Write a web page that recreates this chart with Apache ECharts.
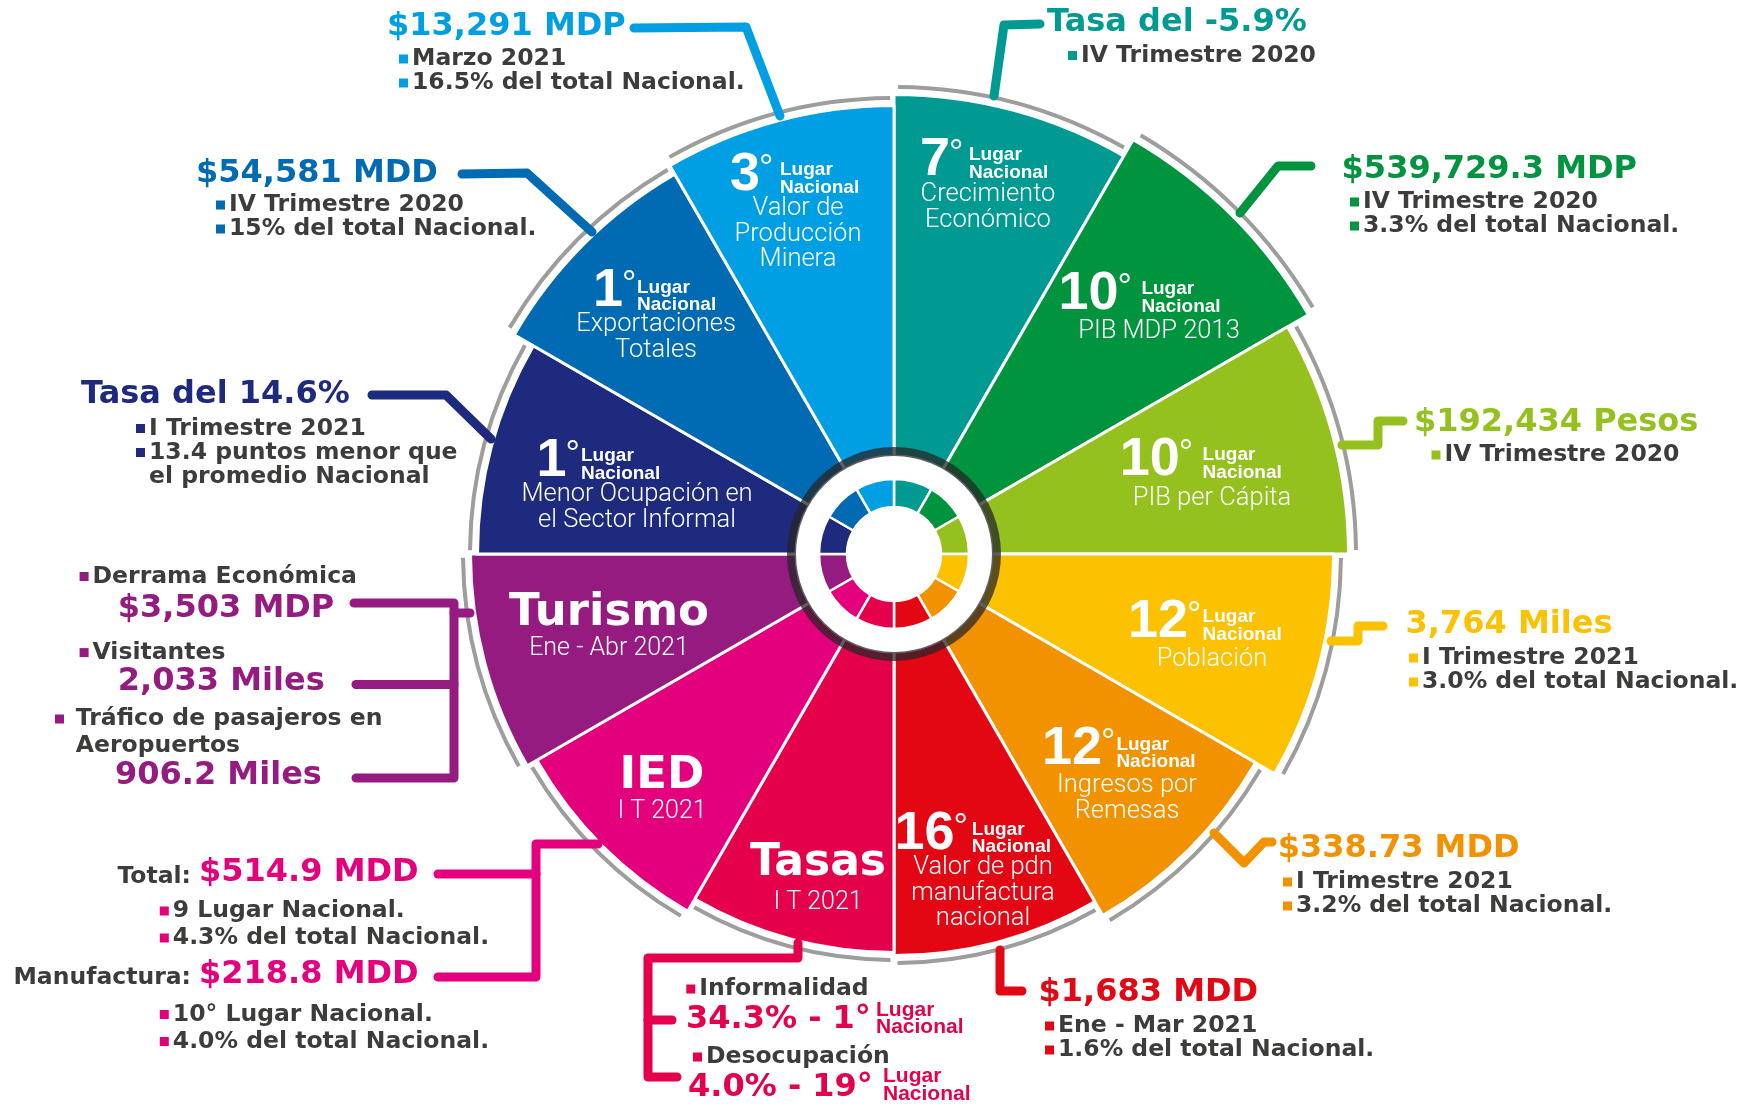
<!DOCTYPE html>
<html><head><meta charset="utf-8">
<script src="https://cdn.jsdelivr.net/npm/echarts@6/dist/echarts.min.js"></script>
<style>html,body{margin:0;padding:0;background:#fff}#c{width:1752px;height:1105px}</style>
</head><body><div id="c"></div>
<script>
// ---------------- DATA ----------------
const INDICATORS = ['Crecimiento\nEconómico','PIB MDP 2013','PIB per Cápita','Población','Ingresos por\nRemesas','Valor de pdn\nmanufactura\nnacional','Tasas','IED','Turismo','Menor Ocupación en\nel Sector Informal','Exportaciones\nTotales','Valor de\nProducción\nMinera'];
const SHARE = [1,1,1,1,1,1,1,1,1,1,1,1];
const RANKS = [7,10,10,12,12,16,null,null,null,1,1,3];
const HEADLINES = ['Tasa del -5.9%','$539,729.3 MDP','$192,434 Pesos','3,764 Miles','$338.73 MDD','$1,683 MDD',null,null,null,'Tasa del 14.6%','$54,581 MDD','$13,291 MDP'];
const DETAILS = [['IV Trimestre 2020'],['IV Trimestre 2020','3.3% del total Nacional.'],['IV Trimestre 2020'],['I Trimestre 2021','3.0% del total Nacional.'],['I Trimestre 2021','3.2% del total Nacional.'],['Ene - Mar 2021','1.6% del total Nacional.'],null,null,null,['I Trimestre 2021','13.4 puntos menor que\nel promedio Nacional'],['IV Trimestre 2020','15% del total Nacional.'],['Marzo 2021','16.5% del total Nacional.']];
const PERIODS = [null,null,null,null,null,null,'I T 2021','I T 2021','Ene - Abr 2021',null,null,null];
const TURISMO_LABELS = ['Derrama Económica','Visitantes','Tráfico de pasajeros en\nAeropuertos'];
const TURISMO_VALUES = ['$3,503 MDP','2,033 Miles','906.2 Miles'];
const IED_LABELS = ['Total:','Manufactura:'];
const IED_VALUES = ['$514.9 MDD','$218.8 MDD'];
const IED_DETAILS = [['9 Lugar Nacional.','4.3% del total Nacional.'],['10° Lugar Nacional.','4.0% del total Nacional.']];
const TASAS_LABELS = ['Informalidad','Desocupación'];
const TASAS_VALUES = ['34.3%','4.0%'];
const TASAS_RANKS = [1,19];

// ---------------- STYLE / LAYOUT ----------------
const COLORS = ['#009a93','#00943e','#95c11f','#fcc100','#f29200','#e30613','#e4004b','#e4007d','#951b81','#1d2a7e','#006ab3','#009fe3'];
const CX = 894, CY = 554;
const SLICE_R = [458,477,453,438,416,400,397,411,422,415,437,447];
const GRAY = '#9d9d9c', TXT = '#3c3c3b';
const F_HEAD = '"DejaVu Sans", sans-serif';
const F_NUM = '"Liberation Sans", Arial, sans-serif';
const F_LIGHT = 'Roboto, "Open Sans", sans-serif';
const HEAD_POS = [[1047,22.5],[1341.6,169.5],[1414,423],[1405.6,625],[1277.7,849],[1038.5,993],null,null,null,[81,394.5],[196,173.5],[387,27]];
const DET_POS = [[1081,55.5],[1363,202],[1444.5,455],[1422,658],[1296,882],[1058,1026],null,null,null,[149,428.5],[229,205],[412,59]];
const LEADERS = [
  [[[994,96],[1004,25],[1040,24]]],
  [[[1240,213],[1278,166],[1311,166]]],
  [[[1342,445],[1378,445],[1378,421],[1403,421]]],
  [[[1331,641],[1358,641],[1358,626],[1383,626]]],
  [[[1214,833],[1244,863],[1264,842],[1272,842]]],
  [[[1000,950],[1000,991],[1022,991]]],
  [[[798,943],[798,958],[648,958],[648,1077],[677,1077]],[[648,1020],[672,1020]]],
  [[[598,844],[536,844],[536,977],[438,977]],[[438,874],[536,874]]],
  [[[354,603],[454,603],[454,778],[356,778]],[[356,684.5],[454,684.5]],[[454,613],[470,613]]],
  [[[372,395],[446,395],[491,439]]],
  [[[462,174],[527,173],[592,232]]],
  [[[634,28],[746,27],[780,116]]]
];
// rank label: [numLeft, numYc, lugarX, lugarYc, descCenterX, descFirstYc]
const RANK_POS = [[920,160,969,155,988,195],[1058.5,294.5,1141.4,289,1159,332],[1119.7,460.5,1202.6,455,1212,499],[1128,622.5,1202.6,617,1212,660],[1042,749,1116.4,744.7,1127,786],[894.5,834,971.8,829.6,983,868],null,null,null,[536.5,461,581,456,637,495],[593,291,637,287.5,656,325],[730,175,780,170,798,209]];
// title slices: [centerX, titleYc, titleSize, periodYc]
const TITLE_POS = [null,null,null,null,null,null,[818,864,44,902.5],[662,776,45,812],[609,613.7,45,649],null,null,null];

// ---------------- HELPERS ----------------
const G = [];
function T(text, x, y, size, color, o) {
  o = o || {};
  G.push({type:'text', silent:true, z:100, x:x, y:y, style:{text:text, fill:color, fontSize:size, fontFamily:o.family||F_HEAD, fontWeight:o.weight||'bold', align:o.align||'left', verticalAlign:'middle'}});
}
function B(x, yc, color) {
  G.push({type:'rect', silent:true, z:100, shape:{x:x, y:yc-4.5, width:9, height:9}, style:{fill:color}});
}
function L(points, color) {
  G.push({type:'polyline', silent:true, z:90, shape:{points:points}, style:{stroke:color, lineWidth:9, lineCap:'round', lineJoin:'round', fill:null}});
}
function detailLines(lines, x, y0, color, step) {
  let y = y0;
  lines.forEach(function(s){
    s.split('\n').forEach(function(part, k){
      if (k === 0) B(x-13, y, color);
      T(part, x, y, 23.5, TXT);
      y += step;
    });
  });
}

// ---------------- ANNOTATIONS ----------------
for (let i = 0; i < 12; i++) {
  const c = COLORS[i];
  LEADERS[i].forEach(function(p){ L(p, c); });
  if (HEADLINES[i]) {
    T(HEADLINES[i], HEAD_POS[i][0], HEAD_POS[i][1], 32, c);
    detailLines(DETAILS[i], DET_POS[i][0], DET_POS[i][1], c, 24);
  }
  if (RANKS[i] != null) {
    const p = RANK_POS[i];
    const s = String(RANKS[i]);
    T(s, p[0], p[1], 54, '#fff', {family:F_NUM});
    T('°', p[0] + s.length*30 - 1, p[1]-5, 36, '#fff', {family:F_NUM, weight:'normal'});
    T('Lugar', p[2], p[3], 19, '#fff', {family:F_NUM});
    T('Nacional', p[2], p[3]+17.5, 19, '#fff', {family:F_NUM});
    INDICATORS[i].split('\n').forEach(function(line, k){
      T(line, p[4], p[5] + k*25.5, 25.5, '#fff', {family:F_LIGHT, weight:300, align:'center'});
    });
  }
  if (TITLE_POS[i]) {
    const q = TITLE_POS[i];
    T(INDICATORS[i], q[0], q[1], q[2], '#fff', {align:'center'});
    T(PERIODS[i], q[0], q[3], 25, '#fff', {family:F_LIGHT, weight:300, align:'center'});
  }
}
// Turismo block
(function(){
  const c = COLORS[8];
  B(79.6, 576.5, c); T(TURISMO_LABELS[0], 92.6, 576.5, 23.5, TXT);
  T(TURISMO_VALUES[0], 117.8, 609, 32, c);
  B(79.6, 652.6, c); T(TURISMO_LABELS[1], 92.6, 652.6, 23.5, TXT);
  T(TURISMO_VALUES[1], 117.8, 682, 32, c);
  const tl = TURISMO_LABELS[2].split('\n');
  B(55, 719, c); T(tl[0], 75.8, 719, 23.5, TXT); T(tl[1], 75.8, 745.5, 23.5, TXT);
  T(TURISMO_VALUES[2], 115, 775.5, 32, c);
})();
// IED block
(function(){
  const c = COLORS[7];
  const ys = [[877,873,911],[978,974.5,1014.5]];
  for (let k = 0; k < 2; k++) {
    T(IED_LABELS[k], 191, ys[k][0], 23.5, TXT, {align:'right'});
    T(IED_VALUES[k], 199, ys[k][1], 32, c);
    detailLines(IED_DETAILS[k], 172.8, ys[k][2], c, 27);
  }
})();
// Tasas block
(function(){
  const c = COLORS[6];
  const pos = [[699.3,989,686,1020,876,1010],[706,1057,688,1088,883,1076.5]];
  for (let k = 0; k < 2; k++) {
    const p = pos[k];
    B(p[0]-13, p[1], c); T(TASAS_LABELS[k], p[0], p[1], 23.5, TXT);
    T(TASAS_VALUES[k] + ' - ' + TASAS_RANKS[k] + '°', p[2], p[3], 32, c);
    T('Lugar', p[4], p[5], 21, c, {family:F_NUM});
    T('Nacional', p[4], p[5]+17.5, 21, c, {family:F_NUM});
  }
})();

// ---------------- SERIES ----------------
const TOTAL = SHARE.reduce(function(a,b){return a+b;},0);
const series = [];
let acc = 0;
for (let i = 0; i < 12; i++) {
  const start = 90 - 360*acc/TOTAL;
  acc += SHARE[i];
  const common = {type:'pie', silent:true, center:[CX,CY], startAngle:start, clockwise:true, label:{show:false}, labelLine:{show:false}, emphasis:{disabled:true}, animation:false};
  series.push(Object.assign({}, common, {
    radius:[98, SLICE_R[i]+1.5], z:2,
    data:[{name:INDICATORS[i], value:SHARE[i], itemStyle:{color:COLORS[i], borderColor:'#fff', borderWidth:3}},
          {name:'', value:TOTAL-SHARE[i], itemStyle:{color:'rgba(0,0,0,0)', borderWidth:0}}]
  }));
  series.push(Object.assign({}, common, {
    radius:[SLICE_R[i]+7, SLICE_R[i]+11], z:2, padAngle:1.0,
    data:[{name:INDICATORS[i], value:SHARE[i], itemStyle:{color:GRAY, borderWidth:0}},
          {name:'', value:TOTAL-SHARE[i], itemStyle:{color:'rgba(0,0,0,0)', borderWidth:0}}]
  }));
}
series.push({type:'pie', silent:true, center:[CX,CY], radius:[47,75], startAngle:90, clockwise:true, z:3,
  label:{show:false}, labelLine:{show:false}, emphasis:{disabled:true},
  data: INDICATORS.map(function(n,i){ return {name:n, value:SHARE[i], itemStyle:{color:COLORS[i], borderColor:'#fff', borderWidth:2.5}}; })});
series.push({type:'pie', silent:true, center:[CX,CY], radius:[98,107], startAngle:90, z:4,
  label:{show:false}, labelLine:{show:false}, emphasis:{disabled:true},
  data:[{name:'ring', value:TOTAL, itemStyle:{color:'rgba(38,38,38,0.74)', borderWidth:0}}]});

const chart = echarts.init(document.getElementById('c'));
chart.setOption({backgroundColor:'#fff', animation:false, series:series, graphic:{elements:G}});
</script></body></html>
